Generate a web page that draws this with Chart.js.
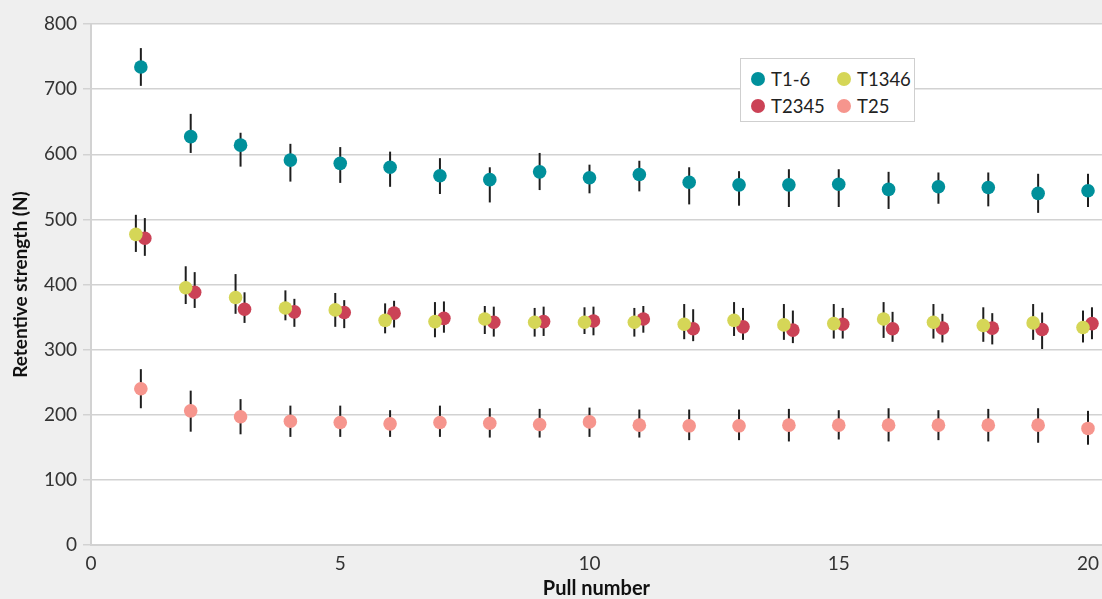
<!DOCTYPE html>
<html>
<head>
<meta charset="utf-8">
<script src="https://cdn.jsdelivr.net/npm/chart.js@4"></script>
<style>
  body { margin: 0; background: #efefef; }
  #wrap { position: relative; width: 1102px; height: 599px; }
  #legend {
    position: absolute; left: 740px; top: 58px; width: 175px; height: 64px;
    background: #fff; border: 1.5px solid #cfcfcf;
    font-family: Lato, sans-serif; font-size: 18.5px; color: #222;
    display: grid; grid-template-columns: 86px 86px; padding: 7px 0 0 10px; box-sizing: border-box;
  }
  #legend div { display: flex; align-items: center; height: 25px; }
  #legend span.dot { width: 14px; height: 14px; border-radius: 50%; margin-right: 6px; display: inline-block; }
</style>
</head>
<body>
<div id="wrap">
  <canvas id="myChart" width="1102" height="599"></canvas>
  <div id="legend"></div>
</div>
<script>
const pulls = [1, 2, 3, 4, 5, 6, 7, 8, 9, 10, 11, 12, 13, 14, 15, 16, 17, 18, 19, 20];

const t16Mean = [734, 627, 614, 591, 586, 580, 567, 561, 573, 564, 569, 557, 553, 553, 554, 546, 550, 549, 540, 544];
const t16Hi = [763, 662, 633, 616, 611, 604, 594, 580, 602, 584, 590, 580, 574, 577, 577, 573, 572, 572, 570, 570];
const t16Lo = [705, 602, 581, 558, 556, 550, 539, 526, 545, 540, 543, 523, 521, 519, 519, 516, 524, 520, 510, 519];

const t1346Mean = [477, 395, 380, 364, 361, 345, 343, 347, 342, 342, 342, 339, 345, 338, 340, 347, 342, 337, 341, 334];
const t1346Hi = [507, 428, 416, 391, 387, 371, 373, 367, 364, 365, 364, 370, 373, 370, 370, 373, 370, 365, 370, 360];
const t1346Lo = [450, 370, 355, 345, 335, 325, 319, 324, 320, 324, 320, 316, 321, 315, 317, 318, 317, 312, 315, 311];

const t2345Mean = [471, 388, 362, 358, 357, 356, 348, 342, 343, 344, 347, 332, 335, 330, 339, 332, 333, 333, 331, 340];
const t2345Hi = [502, 419, 388, 378, 376, 375, 374, 366, 366, 366, 367, 362, 364, 360, 364, 358, 355, 356, 357, 365];
const t2345Lo = [444, 364, 341, 335, 333, 334, 326, 320, 321, 322, 326, 313, 315, 310, 317, 312, 311, 308, 301, 316];

const t25Mean = [240, 206, 197, 190, 188, 186, 188, 187, 185, 189, 184, 183, 183, 184, 184, 184, 184, 184, 184, 179];
const t25Hi = [270, 237, 224, 214, 214, 207, 214, 210, 209, 211, 208, 208, 208, 209, 207, 210, 207, 209, 210, 206];
const t25Lo = [210, 174, 170, 166, 166, 166, 166, 165, 165, 166, 165, 161, 161, 159, 162, 159, 161, 159, 157, 154];

const xTicks = [0, 5, 10, 15, 20];

// small sideways shift so the overlapping groups stay readable
function series(label, color, mean, hi, lo, shift) {
  return {
    label,
    data: pulls.map((p, i) => ({ x: p + shift, y: mean[i] })),
    errHi: hi,
    errLo: lo,
    backgroundColor: color,
    borderWidth: 0,
    pointRadius: 6.8,
    pointHoverRadius: 6.8,
  };
}

const datasets = [
  series('T1-6', '#00909b', t16Mean, t16Hi, t16Lo, 0),
  series('T1346', '#d5d657', t1346Mean, t1346Hi, t1346Lo, -0.1),
  series('T2345', '#cb4256', t2345Mean, t2345Hi, t2345Lo, 0.08),
  series('T25', '#f6958d', t25Mean, t25Hi, t25Lo, 0),
];

const plotBg = {
  id: 'plotBg',
  beforeDraw(chart) {
    const { ctx, chartArea: a } = chart;
    ctx.save();
    ctx.fillStyle = '#efefef';
    ctx.fillRect(0, 0, chart.width, chart.height);
    ctx.fillStyle = '#fff';
    ctx.fillRect(a.left, a.top, a.right - a.left, a.bottom - a.top);
    ctx.restore();
  }
};

const errorBars = {
  id: 'errorBars',
  beforeDatasetsDraw(chart) {
    const { ctx } = chart;
    const y = chart.scales.y;
    ctx.save();
    ctx.strokeStyle = '#1e1e1e';
    ctx.lineWidth = 2;
    chart.data.datasets.forEach((ds, di) => {
      chart.getDatasetMeta(di).data.forEach((pt, i) => {
        ctx.beginPath();
        ctx.moveTo(pt.x, y.getPixelForValue(ds.errHi[i]));
        ctx.lineTo(pt.x, y.getPixelForValue(ds.errLo[i]));
        ctx.stroke();
      });
    });
    ctx.restore();
  }
};

const ctx = document.getElementById('myChart').getContext('2d');
const myChart = new Chart(ctx, {
  type: 'scatter',
  data: { datasets },
  plugins: [plotBg, errorBars],
  options: {
    responsive: false,
    animation: false,
    layout: { autoPadding: false, padding: { top: 24, right: 0, left: 0, bottom: 0 } },
    plugins: { legend: { display: false }, tooltip: { enabled: false } },
    scales: {
      x: {
        type: 'linear',
        min: 0,
        max: 20.28,
        afterBuildTicks: (axis) => { axis.ticks = xTicks.map(v => ({ value: v })); },
        afterFit: (scale) => { scale.height = 54; },
        grid: { display: false, drawTicks: false },
        border: { color: '#d2d2d2', width: 2 },
        ticks: { padding: 3, color: '#333', font: { family: 'Lato', size: 19, lineHeight: 1.7 } },
        title: {
          display: true, text: 'Pull number', color: '#111',
          padding: 0, font: { family: 'Lato', size: 20, weight: 'bold', lineHeight: 1 }
        }
      },
      y: {
        min: 0,
        max: 800,
        ticks: { stepSize: 100, padding: 6, color: '#333', font: { family: 'Lato', size: 19 } },
        afterFit: (scale) => { scale.width = 91; },
        grid: { color: '#d2d2d2', lineWidth: 1.5, tickLength: 8 },
        border: { color: '#d2d2d2', width: 2 },
        title: {
          display: true, text: 'Retentive strength (N)', color: '#111',
          padding: { top: 9, bottom: 0 }, font: { family: 'Lato', size: 19, weight: 'bold' }
        }
      }
    }
  }
});

const legendEl = document.getElementById('legend');
myChart.data.datasets.forEach(ds => {
  const item = document.createElement('div');
  item.innerHTML = '<span class="dot" style="background:' + ds.backgroundColor + '"></span>' + ds.label;
  legendEl.appendChild(item);
});
</script>
</body>
</html>
